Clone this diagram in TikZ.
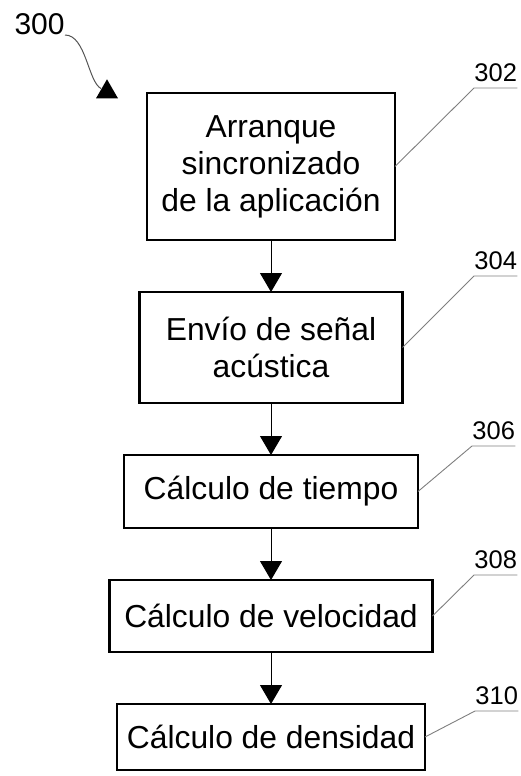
\documentclass[tikz,border=0pt]{standalone}
\usepackage{fontspec}
\setmainfont{Liberation Sans}
\usepackage{tikz}
\usetikzlibrary{arrows.meta,positioning,shapes.geometric}
\definecolor{patgray}{HTML}{7F7F7F}
\definecolor{patdark}{HTML}{555555}
\tikzset{
  procbox/.style={draw=black, line width=1.4pt, align=center, inner sep=2pt, outer sep=0pt,
    font=\fontsize{15.9}{18.5}\selectfont},
  flow/.style={-{Triangle[length=9.5pt,width=11pt]}, line width=0.5pt, draw=black},
  refnum/.style={anchor=south west, inner xsep=0pt, inner ysep=3pt,
    font=\fontsize{12.75}{14}\selectfont},
  refline/.style={draw=patgray, line width=0.45pt},
}

\begin{document}
\begin{tikzpicture}[x=0.5pt, y=-0.5pt, node distance=26pt]
\useasboundingbox (0,0) rectangle (520,776);

\node[procbox, minimum width=124pt, minimum height=73.5pt] (S302) at (271,166.5) {Arranque\\sincronizado\\de la aplicación};
\node[procbox, minimum width=131.5pt, minimum height=55.5pt, below=of S302] (S304) {Envío de señal\\acústica};
\node[procbox, minimum width=147pt, minimum height=36.5pt, below=of S304] (S306) {Cálculo de tiempo};
\node[procbox, minimum width=161.5pt, minimum height=36pt, below=of S306] (S308) {Cálculo de velocidad};
\node[procbox, minimum width=154pt, minimum height=33pt, below=of S308] (S310) {Cálculo de densidad};

\draw[flow] (S302) -- (S304);
\draw[flow] (S304) -- (S306);
\draw[flow] (S306) -- (S308);
\draw[flow] (S308) -- (S310);

% reference numerals
\node[refnum] (L302) at (474,88) {302};
\node[refnum] (L304) at (474,276) {304};
\node[refnum] (L306) at (472,446) {306};
\node[refnum] (L308) at (474,575) {308};
\node[refnum] (L310) at (475,711) {310};

\draw[refline] (S302.east) -- (L302.south west) -- (L302.south east);
\draw[refline] (S304.east) -- (L304.south west) -- (L304.south east);
\draw[refline] (S306.east) -- (L306.south west) -- (L306.south east);
\draw[refline] (S308.east) -- (L308.south west) -- (L308.south east);
\draw[refline] (S310.east) -- (L310.south west) -- (L310.south east);

% figure numeral
\node[anchor=south east, inner sep=0pt, font=\fontsize{15}{17}\selectfont] (L300) at (65,35) {300};
\node[regular polygon, regular polygon sides=3, minimum size=12.7pt, inner sep=0pt, fill=black] (T300) at (107,92) {};
\draw[draw=patdark, line width=0.5pt] (L300.south east) .. controls (86,35) and (88,82) .. (T300.side 1);
\end{tikzpicture}
\end{document}
